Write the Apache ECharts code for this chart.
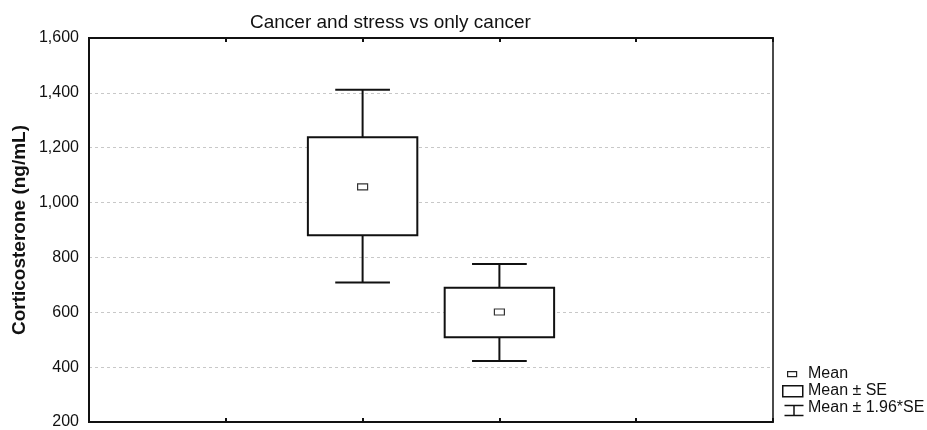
<!DOCTYPE html>
<html>
<head>
<meta charset="utf-8">
<script src="https://cdn.jsdelivr.net/npm/echarts@6/dist/echarts.min.js"></script>
<style>html,body{margin:0;padding:0;background:#fff}#c{width:927px;height:430px}</style>
</head>
<body>
<div id="c"></div>
<script>
// ---- data ----
const groups = ['Cancer and stress', 'Only cancer'];
const groupPos = [2, 3];
const means = [1057, 601];
const seLow = [881, 509];
const seHigh = [1238, 689];
const ciLow = [709, 422];
const ciHigh = [1411, 776];
const yTicks = [200, 400, 600, 800, 1000, 1200, 1400, 1600];
const legendLabels = ['Mean', 'Mean \u00b1 SE', 'Mean \u00b1 1.96*SE'];

const data = groups.map((g, i) => [groupPos[i], ciLow[i], seLow[i], means[i], seHigh[i], ciHigh[i]]);

const chart = echarts.init(document.getElementById('c'), null, {renderer: 'canvas'});
const FONT = 'Liberation Sans, Arial, sans-serif';

function renderItem(params, api) {
  const x = api.value(0);
  const pLo = api.coord([x, api.value(1)]);
  const pSeLo = api.coord([x, api.value(2)]);
  const pMean = api.coord([x, api.value(3)]);
  const pSeHi = api.coord([x, api.value(4)]);
  const pHi = api.coord([x, api.value(5)]);
  const boxW = api.size([0.8, 0])[0];
  const capW = api.size([0.4, 0])[0];
  const cx = pMean[0];
  const line = {stroke: '#111', lineWidth: 2};
  return {
    type: 'group',
    children: [
      {type: 'line', shape: {x1: cx, y1: pHi[1], x2: cx, y2: pSeHi[1]}, style: line},
      {type: 'line', shape: {x1: cx, y1: pSeLo[1], x2: cx, y2: pLo[1]}, style: line},
      {type: 'line', shape: {x1: cx - capW / 2, y1: pHi[1], x2: cx + capW / 2, y2: pHi[1]}, style: line},
      {type: 'line', shape: {x1: cx - capW / 2, y1: pLo[1], x2: cx + capW / 2, y2: pLo[1]}, style: line},
      {type: 'rect', shape: {x: cx - boxW / 2, y: pSeHi[1], width: boxW, height: pSeLo[1] - pSeHi[1]},
        style: {fill: '#fff', stroke: '#111', lineWidth: 2}},
      {type: 'rect', shape: {x: cx - 5, y: pMean[1] - 3, width: 10, height: 6},
        style: {fill: '#fff', stroke: '#333', lineWidth: 1.2}}
    ]
  };
}

const option = {
  animation: false,
  backgroundColor: '#fff',
  title: {
    text: 'Cancer and stress vs only cancer',
    left: 245, top: 8,
    textStyle: {fontFamily: FONT, fontSize: 19, fontWeight: 'normal', color: '#111'}
  },
  grid: {left: 89, right: 154, top: 38, bottom: 6, show: true, borderColor: '#111', borderWidth: 1.5, backgroundColor: '#fff'},
  xAxis: [
    {type: 'value', min: 0, max: 5, interval: 1, position: 'bottom',
      axisLine: {show: true, lineStyle: {color: '#111', width: 2}},
      axisTick: {show: true, inside: true, length: 4, lineStyle: {color: '#111', width: 2}},
      axisLabel: {show: false}, splitLine: {show: false}},
    {type: 'value', min: 0, max: 5, interval: 1, position: 'top',
      axisLine: {show: true, lineStyle: {color: '#111', width: 2}},
      axisTick: {show: true, inside: true, length: 4, lineStyle: {color: '#111', width: 2}},
      axisLabel: {show: false}, splitLine: {show: false}}
  ],
  yAxis: [
    {type: 'value', min: yTicks[0], max: yTicks[yTicks.length - 1], interval: 200,
      name: 'Corticosterone (ng/mL)', nameLocation: 'middle', nameGap: 60, nameRotate: 90,
      nameMoveOverlap: false,
      nameTextStyle: {fontFamily: FONT, fontSize: 19, fontWeight: 'bold', color: '#111'},
      axisLine: {show: true, lineStyle: {color: '#111', width: 2}},
      axisTick: {show: false},
      axisLabel: {fontFamily: FONT, fontSize: 16, color: '#111', margin: 10,
        formatter: v => v.toLocaleString('en-US')},
      splitLine: {show: true, lineStyle: {color: '#c8c8c8', width: 1, type: [3, 3]}}},
    {type: 'value', min: yTicks[0], max: yTicks[yTicks.length - 1], interval: 200, position: 'right',
      axisLine: {show: true, lineStyle: {color: '#111', width: 2}},
      axisTick: {show: false}, axisLabel: {show: false}, splitLine: {show: false}}
  ],
  series: [{
    type: 'custom',
    name: 'Mean',
    renderItem: renderItem,
    data: data,
    encode: {x: 0, y: [1, 2, 3, 4, 5]},
    z: 10
  }],
  graphic: [
    {type: 'rect', left: 787, top: 371, shape: {width: 9, height: 5}, style: {fill: '#fff', stroke: '#222', lineWidth: 1.2}},
    {type: 'text', left: 808, top: 366, style: {text: legendLabels[0], font: '16px ' + FONT, fill: '#111'}},
    {type: 'rect', left: 782, top: 385, shape: {width: 20, height: 11}, style: {fill: '#fff', stroke: '#111', lineWidth: 1.5}},
    {type: 'text', left: 808, top: 383, style: {text: legendLabels[1], font: '16px ' + FONT, fill: '#111'}},
    {type: 'group', left: 782, top: 403, children: [
      {type: 'line', shape: {x1: 0, y1: 0, x2: 19, y2: 0}, style: {stroke: '#111', lineWidth: 1.5}},
      {type: 'line', shape: {x1: 9.5, y1: 0, x2: 9.5, y2: 10}, style: {stroke: '#111', lineWidth: 1.5}},
      {type: 'line', shape: {x1: 0, y1: 10, x2: 19, y2: 10}, style: {stroke: '#111', lineWidth: 1.5}}
    ]},
    {type: 'text', left: 808, top: 400, style: {text: legendLabels[2], font: '16px ' + FONT, fill: '#111'}}
  ]
};
chart.setOption(option);
</script>
</body>
</html>
